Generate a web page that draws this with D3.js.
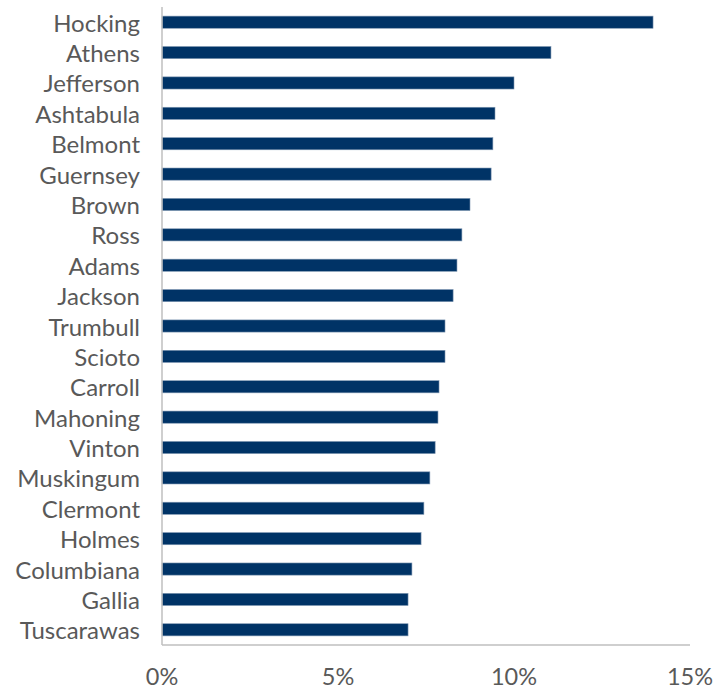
<!DOCTYPE html>
<html><head><meta charset="utf-8">
<script src="https://cdn.jsdelivr.net/npm/d3@7"></script>
<style>body{margin:0;background:#fff}</style>
</head><body><svg id="c" width="720" height="689"></svg>
<script>
const counties = ["Hocking","Athens","Jefferson","Ashtabula","Belmont","Guernsey","Brown","Ross","Adams","Jackson","Trumbull","Scioto","Carroll","Mahoning","Vinton","Muskingum","Clermont","Holmes","Columbiana","Gallia","Tuscarawas"];
const values = [13.95,11.05,10.0,9.46,9.4,9.35,8.75,8.52,8.38,8.27,8.04,8.04,7.87,7.84,7.76,7.61,7.44,7.36,7.1,6.99,6.99];
const xTicks = [0,5,10,15];

(function(){
const svg = d3.select("#c");
const mLeft = 162, mRight = 690, mTop = 7, mBottom = 645;
const x = d3.scaleLinear().domain([0,15]).range([mLeft,mRight]);
const y = d3.scaleBand().domain(counties).range([mTop,mBottom]).paddingInner(0.6).paddingOuter(0.3);

svg.append("g").selectAll("rect").data(counties).join("rect")
  .attr("x", x(0)).attr("y", d=>y(d))
  .attr("width", (d,i)=>x(values[i])-x(0)).attr("height", y.bandwidth())
  .attr("fill","#003366").attr("stroke","#7f97b2").attr("stroke-width",0.6);

svg.append("line").attr("x1",x(0)).attr("x2",x(0)).attr("y1",mTop).attr("y2",mBottom)
  .attr("stroke","#bfbfbf").attr("stroke-width",1.5);
svg.append("line").attr("x1",x(0)).attr("x2",mRight).attr("y1",mBottom).attr("y2",mBottom)
  .attr("stroke","#bfbfbf").attr("stroke-width",1.5);

svg.append("g").selectAll("text").data(counties).join("text")
  .attr("x", 140).attr("y", d=>y(d)+y.bandwidth()/2)
  .attr("text-anchor","end").attr("dominant-baseline","central")
  .attr("font-family","Lato").attr("font-size",24).attr("fill","#595959")
  .text(d=>d);

svg.append("g").selectAll("text").data(xTicks).join("text")
  .attr("x", d=>x(d)).attr("y", 676).attr("text-anchor","middle")
  .attr("dominant-baseline","central")
  .attr("font-family","Lato").attr("font-size",23.5).attr("fill","#595959")
  .text(d=>d+"%");
})();
</script></body></html>
